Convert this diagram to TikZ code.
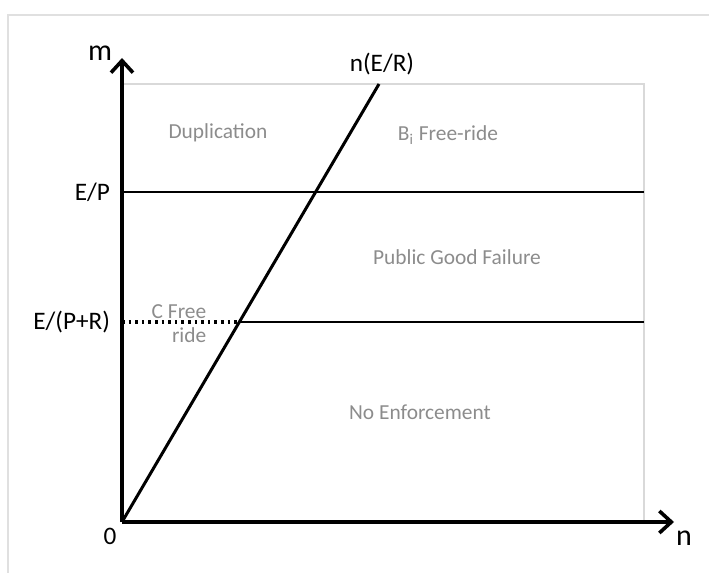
\documentclass[tikz,border=0pt]{standalone}
\usepackage{fontspec}
\setmainfont{Carlito}
\usetikzlibrary{arrows.meta}
\tikzset{
  region/.style={text=black!45,font=\fontsize{10.7}{12}\selectfont},
  axlabel/.style={font=\fontsize{12.6}{14}\selectfont},
  axname/.style={font=\fontsize{15}{17}\selectfont},
  level/.style={line width=1.3pt},
}
\begin{document}
\begin{tikzpicture}[x=0.5pt,y=-0.5pt,>={Straight Barb[length=6pt,width=11pt,line width=1.8pt]}]
\useasboundingbox (0,0) rectangle (709,573);
% outer frame
\draw[black!12,line width=1pt] (8,573)--(8,15)--(709,15);

\coordinate (O) at (122,522);
\coordinate (ytop) at (122,58);
\coordinate (xend) at (674,522);
\coordinate (boxtl) at (122,84);
\coordinate (boxbr) at (644,522);
\draw[black!15,line width=0.8pt] (boxtl)--(boxbr|-boxtl)--(boxbr);

% levels
\coordinate (EP) at (122,192);
\coordinate (EPR) at (122,322);
\coordinate (cross) at (238,322);
\draw[level] (EP)--(644,192);
\draw[level,dotted,line width=2pt] (EPR)--(cross);
\draw[level] (cross)--(644,322);

% n(E/R)
\coordinate (top) at (379,84);
\draw[level,line width=1.5pt] (O)--(top);

% axes
\draw[->,line width=2.4pt] (O)--(xend);
\draw[->,line width=2.4pt] (O)--(ytop);

\node[axname] (m) at (100,53) {m};
\node[axname] (n) at (684,538) {n};
\node[axlabel] (zero) at (110,536) {0};
\node[axlabel,anchor=east] (lEP) at (117,192) {E/P};
\node[axlabel,anchor=east] (lEPR) at (117,322) {E/(P+R)};
\node[axlabel] (lER) at (382,64) {n(E/R)};

\node[region] (dup) at (218,133) {Duplication};
\node[region] (bfree) at (448,135) {B\textsubscript{i} Free-ride};
\node[region] (pgf) at (457,257) {Public Good Failure};
\node[region,align=right] (cfree) at (179,324) {C Free\\ride};
\node[region] (noenf) at (420,412) {No Enforcement};
\end{tikzpicture}
\end{document}
